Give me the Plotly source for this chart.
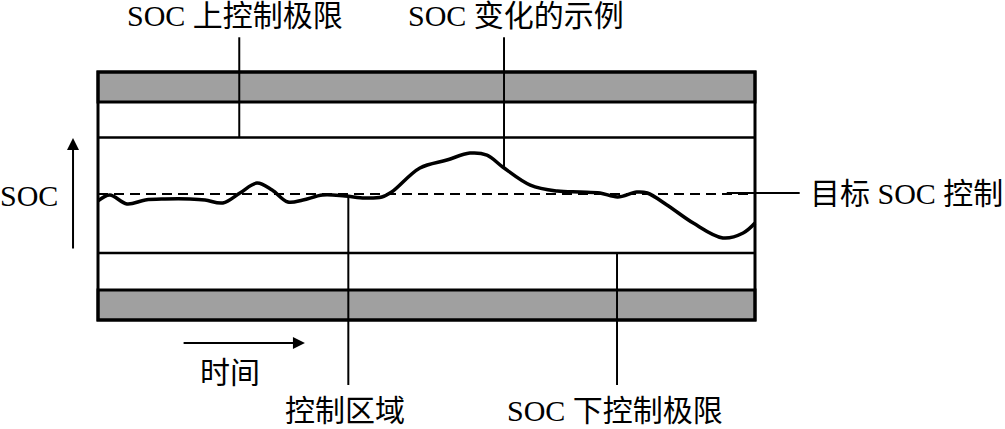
import plotly.graph_objects as go

# Time axis: 0..100 spans the control box; SOC axis: 0..100 spans box bottom..top
time_pts = [0, 1.8, 4.4, 7.2, 10.2, 14.0, 16.3, 19.0, 21.6, 24.2, 26.5, 28.9, 31.2, 34.2,
            37.6, 40.6, 43.2, 44.7, 49.0, 53.1, 56.6, 59.2, 61.6, 65.8, 69.9, 73.4, 76.4,
            79.1, 82.0, 83.6, 86.6, 90.6, 95.1, 98.2, 100]
soc_pts = [48.0, 50.4, 46.8, 48.4, 48.8, 48.8, 48.4, 47.2, 51.2, 55.2, 52.4, 47.6, 48.4, 50.4,
           50.0, 49.2, 49.6, 51.6, 61.3, 64.5, 67.3, 66.5, 61.7, 54.4, 52.0, 51.6, 51.2,
           49.6, 51.6, 51.2, 46.4, 39.1, 33.1, 35.1, 39.1]

soc_target = 50.8
soc_lower_limit = 27.0
soc_upper_limit = 73.6
lower_band = [0, 12.1]
upper_band = [87.9, 100]

labels = {
    "upper": "SOC 上控制极限",
    "example": "SOC 变化的示例",
    "target": "目标 SOC 控制",
    "zone": "控制区域",
    "lower": "SOC 下控制极限",
    "soc": "SOC",
    "time": "时间",
}

FONT = "'Liberation Serif', 'Times New Roman', 'Noto Sans CJK SC', serif"
GRAY = "#a0a0a0"

fig = go.Figure()
fig.add_trace(go.Scatter(x=time_pts, y=soc_pts, mode="lines",
                         line=dict(color="black", width=3.5, shape="spline", smoothing=1.0),
                         hoverinfo="skip", showlegend=False))

shapes = []
for b in (lower_band, upper_band):
    shapes.append(dict(type="rect", x0=0, x1=100, y0=b[0], y1=b[1], fillcolor=GRAY,
                       line=dict(color="black", width=3), layer="below"))
for yv in (soc_lower_limit, soc_upper_limit):
    shapes.append(dict(type="line", x0=0, x1=100, y0=yv, y1=yv, line=dict(color="black", width=2.5)))
shapes.append(dict(type="rect", x0=0, x1=100, y0=0, y1=100, line=dict(color="black", width=3)))
shapes.append(dict(type="line", x0=0, x1=100, y0=soc_target, y1=soc_target,
                   line=dict(color="black", width=2, dash="10px,6px"), layer="below"))
leaders = [
    (21.5, 114, 21.5, soc_upper_limit),
    (61.8, 114, 61.8, 61.7),
    (95.7, 51.2, 106.8, 51.2),
    (38.1, 50.4, 38.1, -26.2),
    (79.0, soc_lower_limit, 79.0, -26.2),
]
for x0, y0, x1, y1 in leaders:
    shapes.append(dict(type="line", x0=x0, x1=x1, y0=y0, y1=y1, line=dict(color="black", width=2)))

annotations = [
    dict(x=20.9, y=122.6, text=labels["upper"]),
    dict(x=63.6, y=122.6, text=labels["example"]),
    dict(x=123.1, y=51.2, text=labels["target"]),
    dict(x=37.6, y=-36.3, text=labels["zone"]),
    dict(x=78.7, y=-36.3, text=labels["lower"]),
    dict(x=-10.5, y=50.4, text=labels["soc"]),
    dict(x=20.1, y=-21.0, text=labels["time"]),
]
for a in annotations:
    a.update(showarrow=False, xref="x", yref="y", font=dict(family=FONT, size=30, color="black"))

annotations.append(dict(x=-3.8, y=73.4, ax=-3.8, ay=28.2, xref="x", yref="y", axref="x", ayref="y",
                        text="", showarrow=True, arrowhead=2, arrowsize=1.2, arrowwidth=2, arrowcolor="black"))
annotations.append(dict(x=31.5, y=-9.3, ax=12.8, ay=-9.3, xref="x", yref="y", axref="x", ayref="y",
                        text="", showarrow=True, arrowhead=2, arrowsize=1.2, arrowwidth=2, arrowcolor="black"))

fig.update_layout(
    width=1005, height=429,
    margin=dict(l=0, r=0, t=0, b=0),
    paper_bgcolor="white", plot_bgcolor="white",
    xaxis=dict(range=[-98 / 6.57, (1005 - 98) / 6.57], visible=False, fixedrange=True),
    yaxis=dict(range=[-(429 - 320) / 2.48, 100 + 72 / 2.48], visible=False, fixedrange=True),
    shapes=shapes, annotations=annotations, showlegend=False,
)
fig.write_html("out.html", config={"staticPlot": True},
               post_script="document.body.style.margin='0px';document.body.style.overflow='hidden';")
